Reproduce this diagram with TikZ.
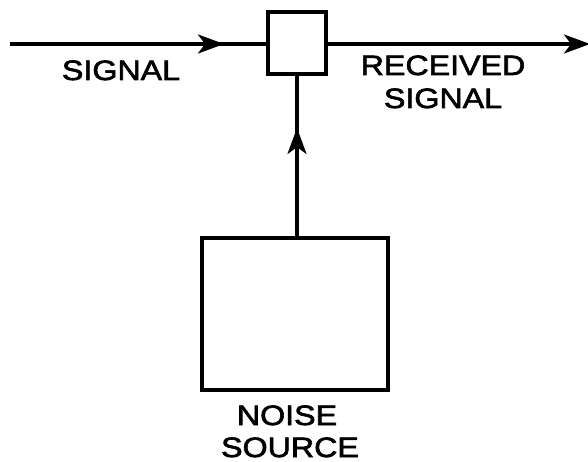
\documentclass[tikz,border=0pt]{standalone}
\usepackage{fontspec}
\newfontfamily\lab[FakeStretch=1.15,FakeBold=2.2]{Liberation Sans}
\usetikzlibrary{arrows.meta}
\begin{document}
\begin{tikzpicture}[x=1pt,y=1pt,
  blk/.style={draw,line width=3.8pt,inner sep=0pt},
  wire/.style={line width=3.2pt},
  tip/.style={-{Stealth[length=26pt,width=19pt,inset=7pt]}},
  txt/.style={inner sep=0pt,anchor=base,font=\lab\fontsize{28}{30}\selectfont}]
\useasboundingbox (0,0) rectangle (588,-462);
\node[blk,minimum width=58pt,minimum height=62pt] (mix) at (297,-43) {};
\node[blk,minimum width=186pt,minimum height=152pt] (noise) at (295,-314) {};
\coordinate (in) at (10,-44);
\coordinate (a1) at (224,-44);
\coordinate (out) at (590,-44);
\coordinate (a2) at (297,-128);
\draw[wire] (in) -- (mix.west |- in);
\draw[wire,tip] (in) -- (a1);
\draw[wire,tip] (mix.east |- in) -- (out);
\draw[wire] (noise.north -| a2) -- (mix.south -| a2);
\draw[wire,tip] (noise.north -| a2) -- (a2);
\node[txt] (l1) at (121,-80) {SIGNAL};
\node[txt] (l2) at (443,-75) {RECEIVED};
\node[txt] (l3) at (443,-108) {SIGNAL};
\node[txt] (l4) at (287,-425) {NOISE};
\node[txt] (l5) at (290,-457) {SOURCE};
\end{tikzpicture}
\end{document}
